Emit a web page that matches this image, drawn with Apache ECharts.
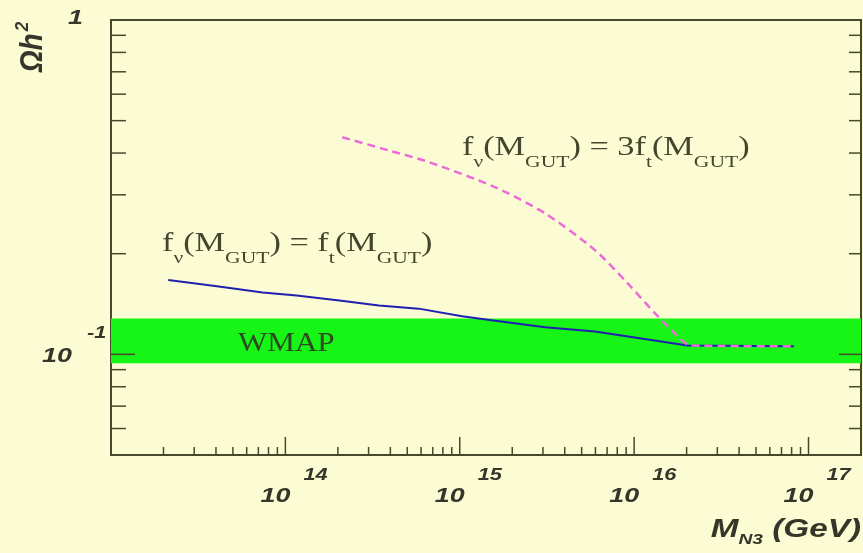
<!DOCTYPE html>
<html><head><meta charset="utf-8">
<script src="https://cdn.jsdelivr.net/npm/echarts/dist/echarts.min.js"></script>
<style>html,body{margin:0;padding:0;background:#fcfcd4;} #c{width:863px;height:553px;}</style>
</head><body><div id="c"></div>
<script>
// ---- data ----
const massBlue  = [2.13e13, 3.95e13, 7.41e13, 1.16e14, 2.04e14, 3.44e14, 5.82e14, 1.03e15, 1.60e15, 3.09e15, 5.96e15, 1.31e16, 2.02e16, 8.25e16];
const omegaBlue = [0.167, 0.160, 0.153, 0.150, 0.145, 0.140, 0.137, 0.130, 0.126, 0.1205, 0.117, 0.110, 0.1063, 0.1057];
const massPink  = [2.12e14, 3.93e14, 6.65e14, 1.60e15, 3.09e15, 5.96e15, 9.19e15, 1.31e16, 1.71e16, 2.10e16, 8.25e16];
const omegaPink = [0.446, 0.407, 0.376, 0.316, 0.264, 0.205, 0.163, 0.133, 0.1156, 0.1063, 0.1057];
const wmapRange = [0.094, 0.128];
const xRange = [1e13, 2e17];
const yRange = [0.05, 1];
const xMajorTicks = [1e14, 1e15, 1e16, 1e17];
const xMinorTicks = [2e13,3e13,4e13,5e13,6e13,7e13,8e13,9e13,
                     2e14,3e14,4e14,5e14,6e14,7e14,8e14,9e14,
                     2e15,3e15,4e15,5e15,6e15,7e15,8e15,9e15,
                     2e16,3e16,4e16,5e16,6e16,7e16,8e16,9e16];
const xTickBase = '10';
const xTickExponents = ['14', '15', '16', '17'];
const yMajorTicks = [0.1];
const yMinorTicks = [0.06,0.07,0.08,0.09,0.2,0.3,0.4,0.5,0.6,0.7,0.8,0.9];
const yLabelValues = [1, 0.1];
const yLabelBases = ['1', '10'];
const yLabelExponents = ['', '-1'];
const labelBlue = ['f', 'ν', '(M', 'GUT', ') = f', 't', '(M', 'GUT', ')'];
const labelPink = ['f', 'ν', '(M', 'GUT', ') = 3f', 't', '(M', 'GUT', ')'];
const bandLabel = 'WMAP';
const xTitle = ['M', 'N3', ' (GeV)'];
const yTitle = ['Ωh', '2'];

// ---- style ----
const BG = '#fcfcd4', AXIS = '#48482c', TXT = '#35352a', SERIF_TXT = '#45452e';
const SANS = '"Liberation Sans", Arial, sans-serif';
const SERIF = '"Liberation Serif", "Times New Roman", serif';
const SX = 1.28;

function subRich(parts, mainSize, subSize, subPad, fam, color, style, weight) {
  let s = '';
  parts.forEach((p, i) => { s += (i % 2 === 0 ? '{m|' : '{s|') + p + '}'; });
  return {
    text: s,
    rich: {
      m: {fontSize: mainSize, fontFamily: fam, fill: color, fontStyle: style, fontWeight: weight},
      s: {fontSize: subSize, fontFamily: fam, fill: color, fontStyle: style, fontWeight: weight, padding: [subPad, 0, 0, 0]}
    }
  };
}

const chart = echarts.init(document.getElementById('c'), null, {renderer: 'canvas'});
const option = {
  animation: false,
  backgroundColor: BG,
  grid: {left: 111, right: 2, top: 20, bottom: 98, show: true, borderColor: AXIS, borderWidth: 2,
         backgroundColor: BG, containLabel: false, outerBoundsMode: 'none'},
  xAxis: {type: 'log', logBase: 10, min: xRange[0], max: xRange[1],
          axisLine: {show: false}, axisTick: {show: false}, axisLabel: {show: false}, splitLine: {show: false}},
  yAxis: {type: 'log', logBase: 10, min: yRange[0], max: yRange[1],
          axisLine: {show: false}, axisTick: {show: false}, axisLabel: {show: false}, splitLine: {show: false}},
  series: [
    { // WMAP band
      type: 'custom', z: 1, silent: true,
      data: [[xRange[0], wmapRange[0], xRange[1], wmapRange[1]]],
      renderItem(params, api) {
        const a = api.coord([api.value(0), api.value(1)]);
        const b = api.coord([api.value(2), api.value(3)]);
        return {type: 'rect', shape: {x: a[0], y: b[1], width: b[0] - a[0], height: a[1] - b[1]},
                style: {fill: '#16f516'}};
      }
    },
    {
      type: 'line', z: 3, showSymbol: false, silent: true,
      data: massBlue.map((m, i) => [m, omegaBlue[i]]),
      lineStyle: {color: '#2020b0', width: 2}
    },
    {
      type: 'line', z: 4, showSymbol: false, silent: true, smooth: 0.25,
      data: massPink.map((m, i) => [m, omegaPink[i]]),
      lineStyle: {color: '#ee6ad8', width: 2.5, type: [8, 5]}
    },
    { // x ticks
      type: 'custom', z: 10, clip: false, silent: true,
      data: xMinorTicks.map(v => [v, yRange[0], 0]).concat(xMajorTicks.map(v => [v, yRange[0], 1])),
      renderItem(params, api) {
        const p = api.coord([api.value(0), api.value(1)]);
        const len = api.value(2) ? 18 : 8;
        return {type: 'line', shape: {x1: p[0], y1: p[1], x2: p[0], y2: p[1] - len},
                style: {stroke: AXIS, lineWidth: 1.5}};
      }
    },
    { // y ticks (left and right)
      type: 'custom', z: 10, clip: false, silent: true,
      data: yMinorTicks.map(v => [xRange[0], v, 0]).concat(yMajorTicks.map(v => [xRange[0], v, 1])),
      renderItem(params, api) {
        const v = api.value(1), major = api.value(2);
        const l = api.coord([xRange[0], v]);
        const r = api.coord([xRange[1], v]);
        const ll = major ? 24 : 15, rl = major ? 22 : 12;
        return {type: 'group', children: [
          {type: 'line', shape: {x1: l[0], y1: l[1], x2: l[0] + ll, y2: l[1]}, style: {stroke: AXIS, lineWidth: 1.5}},
          {type: 'line', shape: {x1: r[0], y1: r[1], x2: r[0] - rl, y2: r[1]}, style: {stroke: AXIS, lineWidth: 1.5}}
        ]};
      }
    },
    { // x tick labels
      type: 'custom', z: 10, clip: false, silent: true,
      data: xMajorTicks.map((v, i) => [v, yRange[0], i]),
      renderItem(params, api) {
        const p = api.coord([api.value(0), api.value(1)]);
        const i = api.value(2);
        return {type: 'group', children: [
          {type: 'text', x: p[0] + 5, y: p[1] + 41, scaleX: SX,
           style: {text: xTickBase, align: 'right', verticalAlign: 'middle', fontSize: 21,
                   fontFamily: SANS, fontStyle: 'italic', fontWeight: 'bold', fill: TXT}},
          {type: 'text', x: p[0] + 18, y: p[1] + 20, scaleX: SX,
           style: {text: xTickExponents[i], align: 'left', verticalAlign: 'middle', fontSize: 17,
                   fontFamily: SANS, fontStyle: 'italic', fontWeight: 'bold', fill: TXT}}
        ]};
      }
    },
    { // y tick labels
      type: 'custom', z: 10, clip: false, silent: true,
      data: yLabelValues.map((v, i) => [xRange[0], v, i]),
      renderItem(params, api) {
        const p = api.coord([api.value(0), api.value(1)]);
        const i = api.value(2);
        const hasExp = yLabelExponents[i] !== '';
        const children = [
          {type: 'text', x: hasExp ? p[0] - 39 : p[0] - 28, y: hasExp ? p[1] + 2 : p[1] - 2, scaleX: SX,
           style: {text: yLabelBases[i], align: 'right', verticalAlign: 'middle', fontSize: 21,
                   fontFamily: SANS, fontStyle: 'italic', fontWeight: 'bold', fill: TXT}}
        ];
        if (hasExp) children.push(
          {type: 'text', x: p[0] - 24, y: p[1] - 21, scaleX: SX,
           style: {text: yLabelExponents[i], align: 'left', verticalAlign: 'middle', fontSize: 17,
                   fontFamily: SANS, fontStyle: 'italic', fontWeight: 'bold', fill: TXT}});
        return {type: 'group', children};
      }
    }
  ],
  graphic: {elements: [
    {type: 'text', x: 162, y: 244, scaleX: 1.27, z: 100, silent: true,
     style: Object.assign(subRich(labelBlue, 27, 17, 30, SERIF, SERIF_TXT, 'normal', 'normal'),
                          {align: 'left', verticalAlign: 'middle'})},
    {type: 'text', x: 462, y: 148, scaleX: 1.27, z: 100, silent: true,
     style: Object.assign(subRich(labelPink, 27, 17, 30, SERIF, SERIF_TXT, 'normal', 'normal'),
                          {align: 'left', verticalAlign: 'middle'})},
    {type: 'text', x: 238, y: 344, scaleX: 1.15, z: 100, silent: true,
     style: {text: bandLabel, align: 'left', verticalAlign: 'middle', fontSize: 27, fontFamily: SERIF, fill: '#2c4a20'}},
    {type: 'text', x: 861, y: 530, scaleX: SX, z: 100, silent: true,
     style: Object.assign(subRich(xTitle, 26, 15, 20, SANS, TXT, 'italic', 'bold'),
                          {align: 'right', verticalAlign: 'middle'})},
    {type: 'text', x: 34, y: 47, rotation: Math.PI / 2, scaleY: 1.1, z: 100, silent: true,
     style: {text: '{a|' + yTitle[0] + '}{g| }{s|' + yTitle[1] + '}', align: 'center', verticalAlign: 'middle',
             rich: {a: {fontSize: 28, fontFamily: SANS, fontStyle: 'italic', fontWeight: 'bold', fill: TXT},
                    g: {fontSize: 8, fontFamily: SANS},
                    s: {fontSize: 17, fontFamily: SANS, fontStyle: 'italic', fontWeight: 'bold', fill: TXT, padding: [0, 0, 20, 0]}}}}
  ]}
};
chart.setOption(option);
</script></body></html>
